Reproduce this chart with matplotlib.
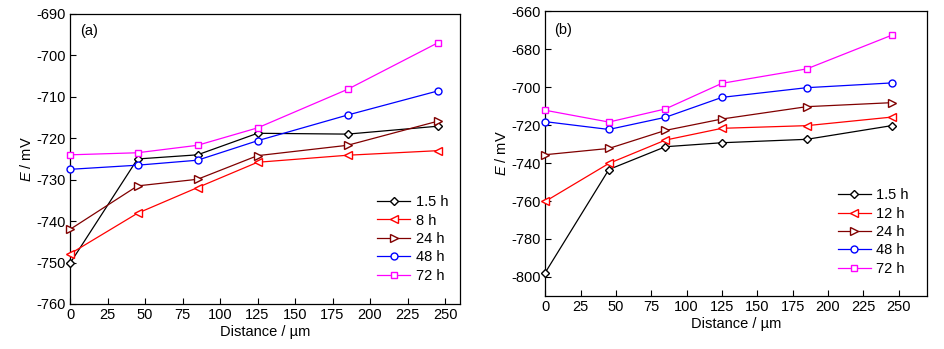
import matplotlib
matplotlib.use("Agg")
import matplotlib.pyplot as plt

plt.rcParams['font.family'] = ['Liberation Sans', 'DejaVu Sans']
plt.rcParams['mathtext.fontset'] = 'custom'
plt.rcParams['mathtext.rm'] = 'Liberation Sans'
plt.rcParams['mathtext.it'] = 'Liberation Sans:italic'
plt.rcParams['axes.unicode_minus'] = False

distance = [0, 45, 85, 125, 185, 245]

# Panel (a)
labels_a = ["1.5 h", "8 h", "24 h", "48 h", "72 h"]
e_a_1p5h = [-750.2, -725.0, -724.0, -718.8, -719.0, -717.1]
e_a_8h = [-747.9, -738.1, -731.9, -725.8, -724.1, -723.0]
e_a_24h = [-742.0, -731.5, -729.9, -724.2, -721.7, -715.9]
e_a_48h = [-727.5, -726.5, -725.3, -720.6, -714.4, -708.6]
e_a_72h = [-724.0, -723.5, -721.7, -717.5, -708.2, -697.0]

# Panel (b)
labels_b = ["1.5 h", "12 h", "24 h", "48 h", "72 h"]
e_b_1p5h = [-797.7, -743.4, -731.4, -729.3, -727.5, -720.3]
e_b_12h = [-760.2, -740.2, -727.9, -721.7, -720.3, -715.8]
e_b_24h = [-735.6, -732.3, -722.8, -716.8, -710.3, -708.2]
e_b_48h = [-718.2, -722.3, -715.9, -705.4, -700.3, -697.8]
e_b_72h = [-712.2, -718.4, -711.5, -698.0, -690.4, -672.7]

colors = ["black", "#ff0000", "#800000", "#0000ff", "#ff00ff"]
markers = ["D", "<", ">", "o", "s"]
msizes = [4.4, 5.6, 5.6, 5.0, 4.5]

FS = 10.5

fig = plt.figure(figsize=(9.45, 3.49), dpi=100)
ax_a = fig.add_axes([0.0741, 0.129, 0.4127, 0.831])
ax_b = fig.add_axes([0.577, 0.152, 0.4039, 0.816])


def draw(ax, series, labels, xlim, ylim, yticks, tag, tag_pos, leg_anchor):
    for y, lab, c, m, ms in zip(series, labels, colors, markers, msizes):
        ax.plot(distance, y, color=c, marker=m, ms=ms, mfc="white", mec=c,
                mew=1.0, lw=0.9, label=lab, clip_on=False, zorder=3)
    ax.set_xlim(*xlim)
    ax.set_ylim(*ylim)
    ax.set_xticks(range(0, 251, 25))
    ax.set_yticks(yticks)
    ax.tick_params(direction="in", length=4, width=0.8, labelsize=FS,
                   top=False, right=False, pad=3)
    for s in ax.spines.values():
        s.set_linewidth(0.9)
    ax.set_xlabel("Distance / µm", fontsize=FS, labelpad=2)
    ax.set_ylabel(r"$E$ / mV", fontsize=FS, labelpad=2)
    ax.text(tag_pos[0], tag_pos[1], tag, transform=ax.transAxes,
            fontsize=FS, va="center", ha="left")
    ax.legend(loc="upper left", bbox_to_anchor=leg_anchor, frameon=False,
              fontsize=FS, handlelength=2.3, handletextpad=0.35,
              labelspacing=0.3, borderpad=0, borderaxespad=0)


draw(ax_a, [e_a_1p5h, e_a_8h, e_a_24h, e_a_48h, e_a_72h], labels_a,
     (0, 260), (-760, -690), range(-760, -689, 10), "(a)", (0.026, 0.94),
     (0.787, 0.375))
draw(ax_b, [e_b_1p5h, e_b_12h, e_b_24h, e_b_48h, e_b_72h], labels_b,
     (0, 270), (-810, -660), range(-800, -659, 20), "(b)", (0.024, 0.933),
     (0.766, 0.378))

fig.savefig("out.png", dpi=100)
